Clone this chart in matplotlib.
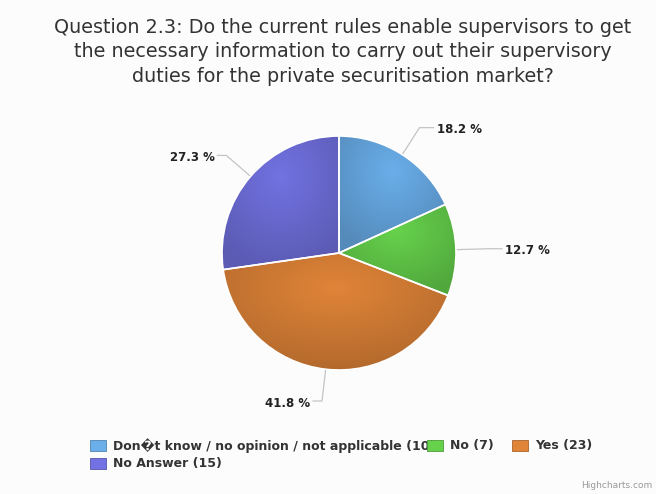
import numpy as np
import matplotlib.pyplot as plt
from matplotlib.colors import to_rgb
from matplotlib.patches import Rectangle

# survey answers
names = ['Don\ufffdt know / no opinion / not applicable', 'No', 'Yes', 'No Answer']
counts = [10, 7, 23, 15]
colors = ['#6aaeea', '#66d24c', '#e08438', '#7272e2']

W, H = 656, 494
fig = plt.figure(figsize=(W / 100, H / 100), dpi=100)
fig.patch.set_facecolor('#fcfcfc')
ax = fig.add_axes([0, 0, 1, 1])

cx, cy, r = 339, H - 253, 117
wedges, _ = ax.pie(counts, colors=colors, startangle=90, counterclock=False,
                   center=(cx, cy), radius=r,
                   wedgeprops=dict(edgecolor='white', linewidth=1.2))
ax.set_xlim(0, W)
ax.set_ylim(0, H)
ax.set_aspect('equal')
ax.axis('off')


def shade(c, f):
    return tuple(np.array(to_rgb(c)) * (1 - f))


# radial gradient inside each slice, lighter toward the upper middle of its box
for w, c in zip(wedges, colors):
    ext = w.get_path().get_extents()
    x0, y0, x1, y1 = ext.x0, ext.y0, ext.x1, ext.y1
    xs = np.linspace(x0, x1, 200)
    ys = np.linspace(y1, y0, 200)
    X, Y = np.meshgrid(xs, ys)
    gx = x0 + 0.5 * (x1 - x0)
    gy = y1 - 0.3 * (y1 - y0)
    d = np.sqrt(((X - gx) / (x1 - x0)) ** 2 + ((Y - gy) / (y1 - y0)) ** 2) / 0.7
    d = np.clip(d, 0, 1)[..., None]
    light = np.array(to_rgb(c))
    dark = np.array(shade(c, 0.2))
    img = light * (1 - d) + dark * d
    im = ax.imshow(img, extent=(x0, x1, y0, y1), origin='upper',
                   interpolation='bilinear', zorder=w.get_zorder() + 0.1)
    im.set_clip_path(w)
    w.set_facecolor('none')
    w.set_zorder(w.get_zorder() + 0.2)

# percentage labels with connectors
total = sum(counts)
start = 0.0
for n in counts:
    mid = np.radians((start + n / 2) / total * 360)
    start += n
    sx, sy = np.sin(mid), np.cos(mid)
    ex, ey = cx + r * sx, cy + r * sy
    bx, by = cx + (r + 32) * sx, cy + (r + 32) * sy
    side = 1 if sx >= 0 else -1
    lx = bx + side * (14 if side > 0 else 9)
    ax.plot([ex, bx, lx], [ey, by, by], color='#c4c4c4', lw=0.9, zorder=1)
    ax.text(lx + side * 3, by - 2, f'{n / total * 100:.1f} %',
            ha='left' if side > 0 else 'right', va='center',
            fontsize=8.5, fontweight='bold', color='#222222')

# title
title = ('Question 2.3: Do the current rules enable supervisors to get\n'
         'the necessary information to carry out their supervisory\n'
         'duties for the private securitisation market?')
ax.text(343, H - 52, title, ha='center', va='center', fontsize=13.8,
        color='#333333', linespacing=1.38)

# legend
slots = [(90, 446), (427, 446), (512, 446), (90, 464)]
for (px, py), nm, n, c in zip(slots, names, counts, colors):
    yy = H - py
    ax.add_patch(Rectangle((px, yy - 5.5), 16, 11, facecolor=c,
                           edgecolor=shade(c, 0.25), lw=0.6, zorder=3))
    t = ax.text(px + 23, yy, f'{nm} ({n})', ha='left', va='center',
                fontsize=9, fontweight='bold', color='#333333', zorder=2)
    if px == 90 and py == 446:
        t.set_clip_path(Rectangle((0, 0), slots[1][0], H, transform=ax.transData))

ax.text(W - 4, 8, 'Highcharts.com', ha='right', va='center', fontsize=6.5,
        color='#999999')

fig.savefig('out.png', dpi=100, facecolor=fig.get_facecolor())
